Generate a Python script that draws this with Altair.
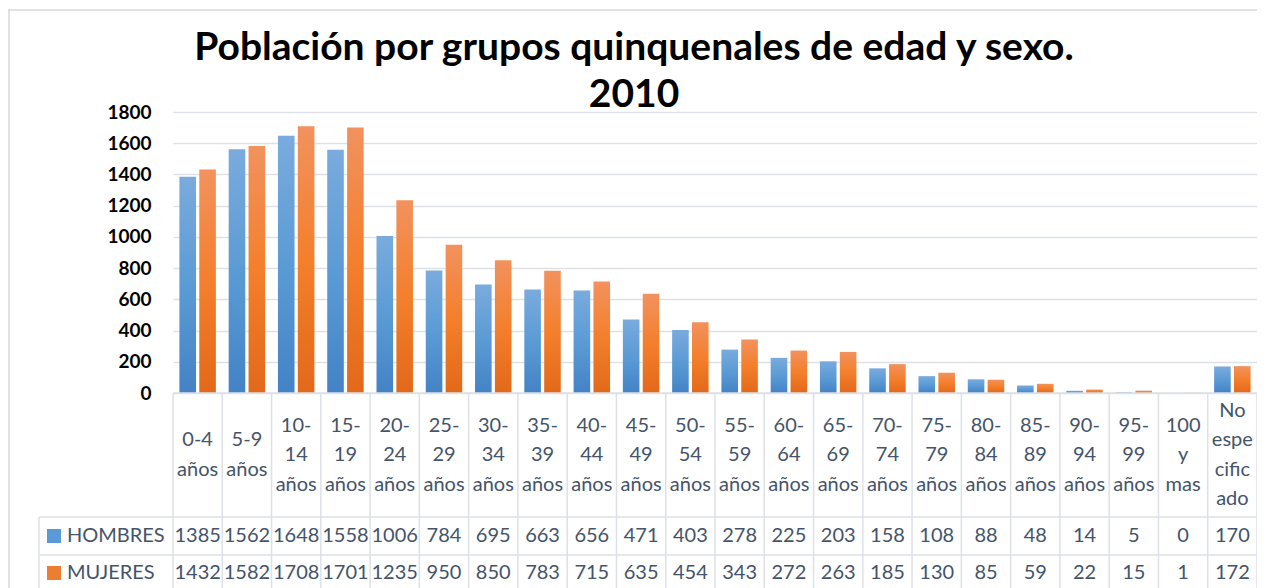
import altair as alt
import pandas as pd

categories = ["0-4\naños", "5-9\naños", "10-\n14\naños", "15-\n19\naños", "20-\n24\naños",
              "25-\n29\naños", "30-\n34\naños", "35-\n39\naños", "40-\n44\naños", "45-\n49\naños",
              "50-\n54\naños", "55-\n59\naños", "60-\n64\naños", "65-\n69\naños", "70-\n74\naños",
              "75-\n79\naños", "80-\n84\naños", "85-\n89\naños", "90-\n94\naños", "95-\n99\naños",
              "100\ny\nmas", "No\nespe\ncific\nado"]
hombres = [1385, 1562, 1648, 1558, 1006, 784, 695, 663, 656, 471, 403, 278, 225, 203, 158, 108, 88, 48, 14, 5, 0, 170]
mujeres = [1432, 1582, 1708, 1701, 1235, 950, 850, 783, 715, 635, 454, 343, 272, 263, 185, 130, 85, 59, 22, 15, 1, 172]
series = ["HOMBRES", "MUJERES"]
y_ticks = [0, 200, 400, 600, 800, 1000, 1200, 1400, 1600, 1800]
title_lines = ["Población por grupos quinquenales de edad y sexo.", "2010"]

W, H = 1084, 281
N = len(categories)
FONT = "Lato"
TXT = "#44546a"
LINE = "#dde1e6"
LH = 29.5
HEAD_CY = 343

rows = []
for i, c in enumerate(categories):
    rows.append({"cat": c, "idx": i, "sexo": series[0], "valor": hombres[i]})
    rows.append({"cat": c, "idx": i, "sexo": series[1], "valor": mujeres[i]})
df = pd.DataFrame(rows)
cats_df = pd.DataFrame({"cat": categories, "idx": list(range(N))})
one = pd.DataFrame({"k": [0]})

xband = alt.Scale(domain=categories, paddingInner=0.26, paddingOuter=0.13)
xoff = alt.Scale(domain=series, paddingInner=0.165)
yscale = alt.Scale(domain=[0, 1800])
yaxis = alt.Axis(values=y_ticks, format="d", title=None, domain=False, ticks=False, labelFont=FONT,
                 labelFontWeight="bold", labelFontSize=19, labelColor="#000000", labelPadding=22,
                 gridColor=LINE, gridWidth=1.3)

def grad(c1, c2, c3):
    return alt.Gradient(gradient="linear", x1=0, x2=0, y1=0, y2=1,
                        stops=[alt.GradientStop(color=c1, offset=0),
                               alt.GradientStop(color=c2, offset=0.5),
                               alt.GradientStop(color=c3, offset=1)])

def bars(name, fill):
    return alt.Chart(df).transform_filter(alt.datum.sexo == name).mark_bar(color=fill).encode(
        x=alt.X("cat:N", scale=xband, sort=categories, axis=None),
        xOffset=alt.XOffset("sexo:N", scale=xoff),
        y=alt.Y("valor:Q", scale=yscale, axis=yaxis),
    )

bar_layer = alt.layer(
    bars(series[0], grad("#7aabde", "#5b9bd5", "#4383c6")),
    bars(series[1], grad("#f2925e", "#f47f2c", "#e2691a")),
)

xq = alt.Scale(domain=[0, N])

vrules = alt.Chart(alt.sequence(0, N + 1)).mark_rule(color=LINE, strokeWidth=1.5).encode(
    x=alt.X("data:Q", scale=xq, axis=None), y=alt.value(H), y2=alt.value(H + 320))
axis_line = alt.Chart(one).mark_rule(color=LINE, strokeWidth=1.5).encode(
    x=alt.value(0), x2=alt.value(W), y=alt.value(H))
hr1 = alt.Chart(one).mark_rule(color=LINE, strokeWidth=1.5).encode(
    x=alt.value(-134), x2=alt.value(W), y=alt.value(405))
hr2 = alt.Chart(one).mark_rule(color=LINE, strokeWidth=1.5).encode(
    x=alt.value(-134), x2=alt.value(W), y=alt.value(443))
vleft = alt.Chart(one).mark_rule(color=LINE, strokeWidth=1.5).encode(
    x=alt.value(-134), y=alt.value(405), y2=alt.value(H + 320))
border_top = alt.Chart(one).mark_rule(color="#d9d9d9", strokeWidth=1.5).encode(
    x=alt.value(-165), x2=alt.value(W), y=alt.value(-102))
border_left = alt.Chart(one).mark_rule(color="#d9d9d9", strokeWidth=1.5).encode(
    x=alt.value(-164), y=alt.value(-102), y2=alt.value(H + 320))

def header(nl):
    return alt.Chart(cats_df).transform_calculate(
        xc="datum.idx + 0.5", lines="split(datum.cat, '\\n')"
    ).transform_calculate(n="length(datum.lines)").transform_filter(alt.datum.n == nl).mark_text(
        font=FONT, fontSize=20, color=TXT, baseline="middle", align="center", lineHeight=LH
    ).encode(x=alt.X("xc:Q", scale=xq, axis=None), y=alt.value(HEAD_CY - (nl - 1) * LH / 2), text="lines:N")

def value_row(name, ypix):
    return alt.Chart(df).transform_filter(alt.datum.sexo == name).transform_calculate(
        xc="datum.idx + 0.5"
    ).mark_text(font=FONT, fontSize=20, color=TXT, baseline="middle", align="center").encode(
        x=alt.X("xc:Q", scale=xq, axis=None), y=alt.value(ypix), text="valor:Q")

def legend_item(name, color, ypix):
    sq = alt.Chart(one).mark_square(size=196, color=color, opacity=1).encode(
        x=alt.value(-119), y=alt.value(ypix))
    tx = alt.Chart(one).mark_text(font=FONT, fontSize=20, color=TXT, baseline="middle", align="left").encode(
        x=alt.value(-106), y=alt.value(ypix), text=alt.value(name))
    return [sq, tx]

def title_line(txt, ypix):
    return alt.Chart(one).mark_text(font=FONT, fontSize=39, fontWeight="bold", color="#000000",
                                    baseline="alphabetic", align="center").encode(
        x=alt.value(461), y=alt.value(ypix), text=alt.value(txt))

layers = [bar_layer, vrules, axis_line, hr1, hr2, vleft, border_top, border_left,
          header(2), header(3), header(4),
          value_row(series[0], 424), value_row(series[1], 461)]
layers += legend_item(series[0], "#5b9bd5", 424)
layers += legend_item(series[1], "#ed7d31", 461)
layers += [title_line(title_lines[0], -52), title_line(title_lines[1], -5)]

chart = alt.layer(*layers).resolve_scale(x="independent").properties(
    width=W, height=H,
    autosize=alt.AutoSizeParams(type="none"),
    padding={"left": 165, "top": 104, "right": 0, "bottom": 195},
).configure_view(stroke=None)

chart.save("out.html", embed_options={"renderer": "svg", "actions": False})
